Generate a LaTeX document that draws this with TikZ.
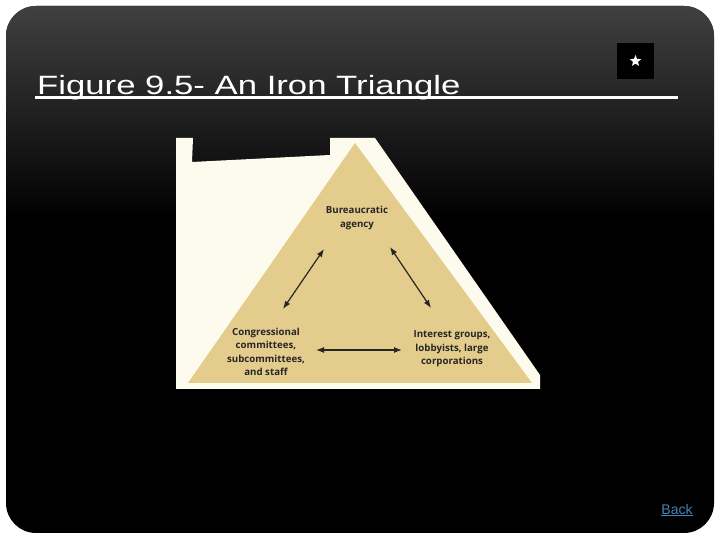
\documentclass[tikz,border=0pt]{standalone}
\usepackage{fontspec}
\setmainfont{Liberation Sans}
\newfontfamily\labelfont{Open Sans}
\usepackage{xcolor}
\usetikzlibrary{arrows.meta, positioning, shapes.geometric, calc}
\definecolor{tanfill}{RGB}{228,205,140}
\definecolor{creamfill}{RGB}{253,250,238}
\definecolor{linkblue}{RGB}{70,130,180}
\definecolor{topgray}{RGB}{64,64,64}
\tikzset{
    slide/.style={
        fill=black,
        rounded corners=30pt
    },
    heading/.style={
        text=white,
        font=\fontsize{26.5}{30}\selectfont,
        inner sep=0pt
    },
    corner/.style={
        align=center,
        text=black!85,
        font=\labelfont\bfseries\fontsize{9.7}{13.3}\selectfont,
        inner sep=1pt
    },
    link/.style={
        draw=black!85,
        line width=1.2pt,
        {Latex[length=8pt,width=6pt]}-{Latex[length=8pt,width=6pt]}
    },
    backlink/.style={
        text=linkblue,
        font=\fontsize{14}{16}\selectfont,
        inner sep=0pt
    }
}

\begin{document}
\begin{tikzpicture}[x=1pt, y=1pt]

% Page and slide
\fill[white] (0,0) rectangle (720,540);
\path[slide] (6,7) rectangle (714,534);
\begin{scope}
    \clip[rounded corners=30pt] (6,7) rectangle (714,534);
    \shade[top color=topgray, bottom color=black] (6,320) rectangle (714,534);
\end{scope}

% Title
\node[heading, anchor=base west] (title) at (37,445) {\scalebox{1.31}[1]{Figure 9.5- An Iron Triangle}};
\coordinate (ulstart) at (35,442.5);
\coordinate (ulend) at (678,442.5);
\draw[white, line width=3pt] (ulstart) -- (ulend);

% Star button
\node[fill=black, minimum width=37pt, minimum height=36pt, inner sep=0pt] (starbox) at (635.5,479) {};
\node[star, star points=5, star point ratio=2.3, fill=white, minimum size=12pt, inner sep=0pt] (star) at (starbox) {};

% Figure
\fill[creamfill] (176,402) -- (193,402) -- (192,378) -- (330,385) -- (330,402)
    -- (375,402) -- (540,165) -- (540,151) -- (176,151) -- cycle;
\fill[tanfill] (355,397) -- (188,157) -- (532,157) -- cycle;

\node[corner] (bureau) at (357,322) {Bureaucratic\\agency};
\node[corner] (congress) at (266,188) {Congressional\\committees,\\subcommittees,\\and staff};
\node[corner] (interest) at (452,191) {Interest groups,\\lobbyists, large\\corporations};

\coordinate (bcA) at (324,291);
\coordinate (bcB) at (283,231);
\coordinate (biA) at (390,293);
\coordinate (biB) at (431,232);
\coordinate (ciA) at (316,190);
\coordinate (ciB) at (402,190);
\draw[link] (bcA) -- (bcB);
\draw[link] (biA) -- (biB);
\draw[link] (ciA) -- (ciB);

% Back link
\node[backlink] (back) at (677,31) {Back};
\draw[linkblue, line width=1pt] (back.south west) ++(0,-1.5) -- ($(back.south east)+(0,-1.5)$);

\end{tikzpicture}
\end{document}
